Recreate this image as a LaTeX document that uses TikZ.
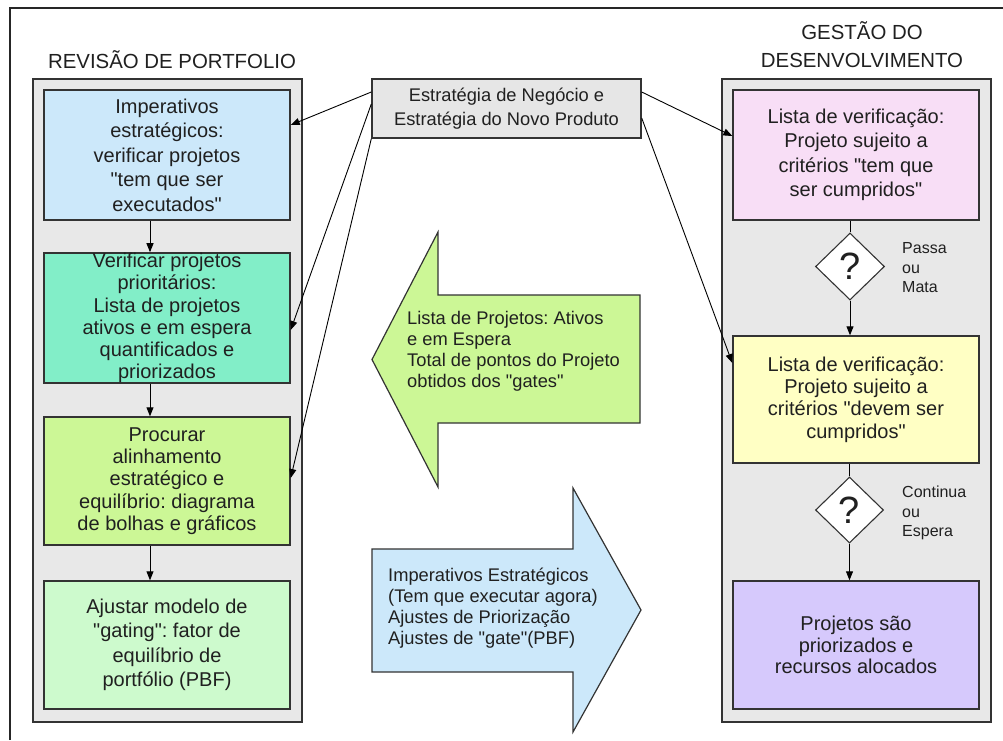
\documentclass[tikz,border=0pt]{standalone}
\usepackage{fontspec}
\setmainfont{Liberation Sans}
\usetikzlibrary{arrows.meta,shapes.geometric}
\definecolor{bordc}{HTML}{333333}
\definecolor{txtc}{HTML}{202020}
\definecolor{panelc}{HTML}{E8E8E8}
\definecolor{stratc}{HTML}{E6E6E6}
\definecolor{cblue}{HTML}{CCE8FA}
\definecolor{cteal}{HTML}{82EEC8}
\definecolor{clime}{HTML}{CCF796}
\definecolor{cmint}{HTML}{CDFACD}
\definecolor{cpink}{HTML}{F8DEF6}
\definecolor{cyell}{HTML}{FFFFC4}
\definecolor{cviol}{HTML}{D6C9FC}
\newcommand{\dq}{\textquotedbl}
\frenchspacing
\begin{document}
\begin{tikzpicture}[x=1pt,y=-1pt,
  panel/.style={draw=bordc, fill=panelc, line width=1.1pt, inner sep=0pt},
  box/.style={draw=bordc, line width=1.4pt, text=txtc, align=center, inner sep=0pt,
     minimum width=246pt, font=\fontsize{20}{24.5}\selectfont},
  tight/.style={font=\fontsize{20}{22.3}\selectfont},
  conn/.style={draw=black, line width=0.9pt, -{Triangle[length=9pt,width=7pt]}},
  plain/.style={draw=black, line width=0.9pt},
  dia/.style={diamond, draw=bordc, fill=white, line width=1.1pt, inner sep=0pt},
  qmark/.style={text=txtc, font=\fontsize{38}{38}\selectfont, inner sep=0pt},
  side/.style={text=txtc, align=left, anchor=west, inner sep=0pt, font=\fontsize{16}{19.5}\selectfont},
  title/.style={text=txtc, align=center, inner sep=0pt, font=\fontsize{20.4}{28}\selectfont},
  bigarrow/.style={draw=bordc, line width=1.2pt},
  arrtext/.style={text=txtc, align=left, anchor=west, inner sep=0pt, font=\fontsize{18.3}{21}\selectfont}
]
\useasboundingbox (0,0) rectangle (1003,740);
% outer frame (right and bottom edges lie outside the picture)
\draw[line width=1.5pt, draw=black!85] (10,740) -- (10,8) -- (1003,8);

% titles
\node[title] (tl) at (172,60) {REVISÃO DE PORTFOLIO};
\node[title] (tr) at (862,45) {GESTÃO DO\\DESENVOLVIMENTO};

% panels
\node[panel, minimum width=269pt, minimum height=643pt] (lp) at (167.5,400.5) {};
\node[panel, minimum width=269pt, minimum height=643pt] (rp) at (856.5,400.5) {};

% left boxes
\node[box, fill=cblue, minimum height=130pt] (b1) at (167,155)
  {Imperativos\\estratégicos:\\verificar projetos\\\dq tem que ser\\executados\dq};
\node[box, tight, fill=cteal, minimum height=128pt] (b2) at (167,318)
  {Verificar projetos\\prioritários:\\Lista de projetos\\ativos e em espera\\quantificados e\\priorizados};
\node[box, tight, fill=clime, minimum height=128pt] (b3) at (167,481)
  {Procurar\\alinhamento\\estratégico e\\equilíbrio: diagrama\\de bolhas e gráficos};
\node[box, fill=cmint, minimum height=128pt] (b4) at (167,645)
  {Ajustar modelo de\\\dq gating\dq: fator de\\equilíbrio de\\portfólio (PBF)};

\draw[conn] ([xshift=-17pt]b1.south) -- ([xshift=-17pt]b2.north);
\draw[conn] ([xshift=-17pt]b2.south) -- ([xshift=-17pt]b3.north);
\draw[conn] ([xshift=-17pt]b3.south) -- ([xshift=-17pt]b4.north);

% strategy box
\node[draw=bordc, fill=stratc, line width=1.4pt, text=txtc, align=center, inner sep=0pt,
  minimum width=269pt, minimum height=59pt, font=\fontsize{18.3}{24}\selectfont] (s) at (506.5,108.5)
  {Estratégia de Negócio e\\Estratégia do Novo Produto};

% right boxes
\node[box, fill=cpink, minimum height=130pt] (r1) at (856,155)
  {Lista de verificação:\\Projeto sujeito a\\critérios \dq tem que\\ser cumpridos\dq};
\node[dia, minimum width=69pt, minimum height=67pt] (d1) at (850,266.5) {};
\node[qmark] (q1) at (d1.center) {?};
\node[side] (l1) at (902,268) {Passa\\ou\\Mata};
\node[box, tight, fill=cyell, minimum height=127pt] (r2) at (856,399.5)
  {Lista de verificação:\\Projeto sujeito a\\critérios \dq devem ser\\cumpridos\dq};
\node[dia, minimum width=68pt, minimum height=66pt] (d2) at (849.5,510) {};
\node[qmark] (q2) at (d2.center) {?};
\node[side] (l2) at (902,513) {Continua\\ou\\Espera};
\node[box, fill=cviol, minimum height=128pt, font=\fontsize{20}{21.5}\selectfont] (r3) at (856,645)
  {Projetos são\\priorizados e\\recursos alocados};

\draw[plain] (d1.north |- r1.south) -- (d1.north);
\draw[conn] (d1.south) -- (d1.south |- r2.north);
\draw[plain] (d2.north |- r2.south) -- (d2.north);
\draw[conn] (d2.south) -- (d2.south |- r3.north);

% connectors from strategy box
\draw[conn] ([yshift=16.5pt]s.west) -- ([yshift=30pt]b1.east);
\draw[conn] ([yshift=4.5pt]s.west) -- ([yshift=-12pt]b2.east);
\draw[conn] (s.south west) -- ([yshift=3pt]b3.east);
\draw[conn] ([yshift=16.5pt]s.east) -- ([yshift=19pt]r1.west);
\draw[conn] ([yshift=-9.5pt]s.east) -- ([yshift=36.5pt]r2.west);

% big arrows
\draw[bigarrow, fill=clime] (640,295) -- (438,295) -- (438,232) -- (372,359.5)
  -- (438,487) -- (438,423) -- (640,423) -- cycle;
\node[arrtext] (ga) at (407,351)
  {Lista de Projetos: Ativos\\e em Espera\\Total de pontos do Projeto\\obtidos dos \dq gates\dq};
\draw[bigarrow, fill=cblue] (372,549) -- (573,549) -- (573,488) -- (641,610)
  -- (573,732) -- (573,672) -- (372,672) -- cycle;
\node[arrtext] (ba) at (388,608)
  {Imperativos Estratégicos\\(Tem que executar agora)\\Ajustes de Priorização\\Ajustes de \dq gate\dq(PBF)};
\end{tikzpicture}
\end{document}
